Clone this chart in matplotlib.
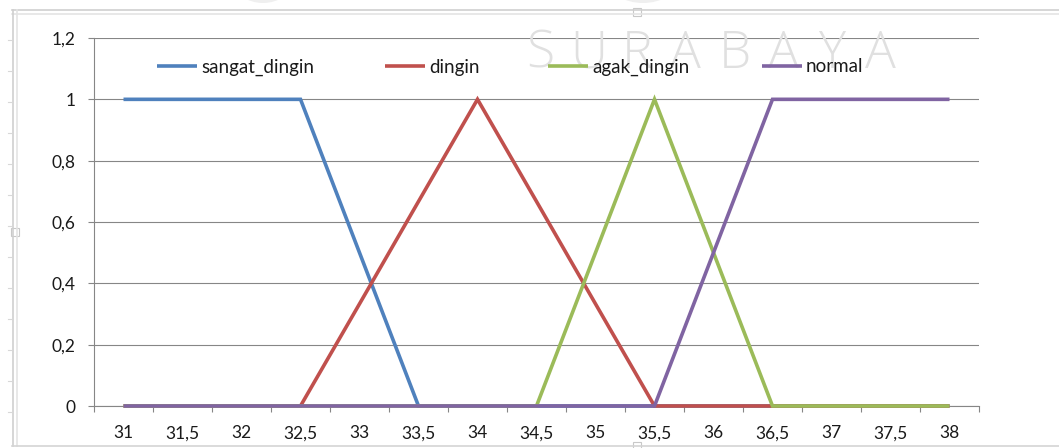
import matplotlib
matplotlib.use("Agg")
import matplotlib.pyplot as plt
from matplotlib.lines import Line2D
from matplotlib.patches import Ellipse, Rectangle

# --- data -------------------------------------------------------------
categories = ["31", "31,5", "32", "32,5", "33", "33,5", "34", "34,5",
              "35", "35,5", "36", "36,5", "37", "37,5", "38"]
sangat_dingin = [1, 1, 1, 1, 0.5, 0, 0, 0, 0, 0, 0, 0, 0, 0, 0]
dingin = [0, 0, 0, 0, 0.333, 0.667, 1, 0.667, 0.333, 0, 0, 0, 0, 0, 0]
agak_dingin = [0, 0, 0, 0, 0, 0, 0, 0, 0.5, 1, 0.5, 0, 0, 0, 0]
normal = [0, 0, 0, 0, 0, 0, 0, 0, 0, 0, 0.5, 1, 1, 1, 1]
series_names = ["sangat_dingin", "dingin", "agak_dingin", "normal"]
y_ticks = [0, 0.2, 0.4, 0.6, 0.8, 1.0, 1.2]
y_tick_labels = ["0", "0,2", "0,4", "0,6", "0,8", "1", "1,2"]

colors = ["#4F81BD", "#C0504D", "#9BBB59", "#8064A2"]
FONT = ["Lato", "DejaVu Sans"]
W, H = 1059, 448

fig = plt.figure(figsize=(W / 100, H / 100), dpi=100)
fig.patch.set_facecolor("white")


def fx(x):
    return x / W


def fy(y):
    return 1 - y / H


# chart-area frame (double border with sizing handles)
for y in (10.5, 14.5):
    fig.add_artist(Line2D([fx(12), 1], [fy(y), fy(y)], color="#cfcfcf" if y < 12 else "#e4e4e4", lw=1.2))
for x in (12.5, 16.5):
    fig.add_artist(Line2D([fx(x), fx(x)], [fy(10), fy(446)], color="#cfcfcf" if x < 14 else "#e4e4e4", lw=1.2))
fig.add_artist(Line2D([fx(12), 1], [fy(446), fy(446)], color="#d4d4d4", lw=1.2))
for (hx, hy) in [(637, 12.5), (14.5, 232), (637, 446)]:
    fig.add_artist(Rectangle((fx(hx - 4), fy(hy + 4)), 8 / W, 8 / H, facecolor="white",
                             edgecolor="#c8c8c8", lw=0.8))
# small ruler marks left of the frame
for y in range(40, 440, 31):
    fig.add_artist(Line2D([fx(8), fx(11)], [fy(y), fy(y)], color="#d8d8d8", lw=0.8))

# faint watermark shapes at the top edge
for (cx, w) in [(263, 60), (643, 70)]:
    fig.add_artist(Ellipse((fx(cx), fy(-20)), w / W, 46 / H, facecolor="#efefef", edgecolor="none"))

# watermark text
for i, ch in enumerate("SURABAYA"):
    fig.text(fx(540 + i * 48.6), fy(54), ch, fontfamily=["Open Sans", "DejaVu Sans"],
             fontweight="light", fontsize=37, color="#e0e0e0", ha="center", va="center",
             zorder=0.5)

ax = fig.add_axes([fx(94), fy(406), (979 - 94) / W, (406 - 38) / H])
ax.set_facecolor("none")

x = list(range(len(categories)))
for vals, name, c in zip([sangat_dingin, dingin, agak_dingin, normal], series_names, colors):
    ax.plot(x, vals, color=c, lw=2.6, solid_capstyle="butt", solid_joinstyle="miter",
            clip_on=False, zorder=3, label=name)

ax.set_xlim(-0.5, len(categories) - 0.5)
ax.set_ylim(0, 1.2)

# y axis
ax.set_yticks(y_ticks)
ax.set_yticklabels(y_tick_labels, fontfamily=FONT, fontsize=12.5, color="#1a1a1a")
ax.tick_params(axis="y", length=4.5, width=0.8, color="#868686", pad=9)
ax.yaxis.grid(True, color="#868686", lw=0.8, zorder=0)
ax.set_axisbelow(True)

# x axis: ticks between categories, labels at category centres
ax.set_xticks([i - 0.5 for i in range(len(categories) + 1)])
ax.set_xticklabels([])
ax.set_xticks(x, minor=True)
ax.set_xticklabels(categories, minor=True, fontfamily=FONT, fontsize=12.5, color="#1a1a1a")
ax.tick_params(axis="x", which="major", length=4.5, width=0.8, color="#868686", direction="out")
ax.tick_params(axis="x", which="minor", length=0, pad=14)

for s in ("top", "right"):
    ax.spines[s].set_visible(False)
for s in ("left", "bottom"):
    ax.spines[s].set_color("#868686")
    ax.spines[s].set_linewidth(0.8)

# legend across the top of the plot
legend_x = [157, 385, 548, 762]
legend_y = 66
for name, c, lx in zip(series_names, colors, legend_x):
    fig.add_artist(Line2D([fx(lx), fx(lx + 40)], [fy(legend_y), fy(legend_y)], color=c, lw=2.6,
                          solid_capstyle="butt"))
    fig.text(fx(lx + 44), fy(legend_y + 1), name, fontfamily=FONT, fontsize=13.5,
             color="#1a1a1a", ha="left", va="center")

fig.savefig("out.png", dpi=100, facecolor="white")
